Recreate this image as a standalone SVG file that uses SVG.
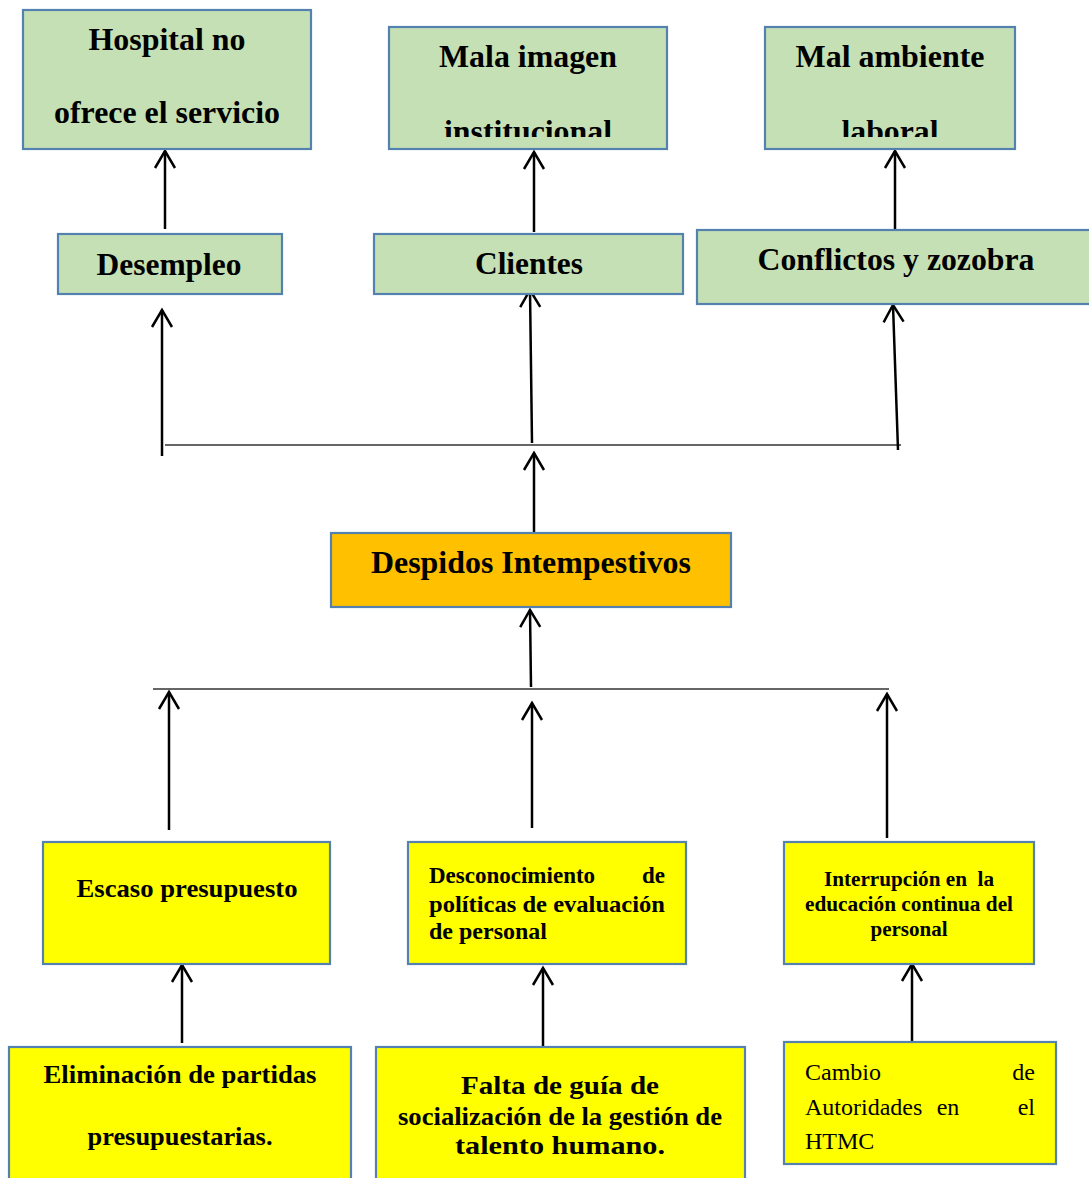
<svg xmlns="http://www.w3.org/2000/svg" width="1089" height="1178" viewBox="0 0 1089 1178">
<style>
.g{fill:#C5E0B4;stroke:#5581B0;stroke-width:2.2}
.o{fill:#FFC000;stroke:#5581B0;stroke-width:2.2}
.y{fill:#FFFF00;stroke:#5581B0;stroke-width:2.2}
text{font-family:"Liberation Serif","Times New Roman",serif;fill:#000}
.b{font-weight:bold}
.c{text-anchor:middle}
.a{stroke:#000;stroke-width:2.5;fill:none;marker-end:url(#arr)}
.h{stroke:#333;stroke-width:1.6;fill:none}
</style>
<defs>
<marker id="arr" markerUnits="userSpaceOnUse" markerWidth="20" markerHeight="20" refX="0" refY="0" orient="auto" overflow="visible">
<path d="M -17 -10 L 0 0 L -17 10" fill="none" stroke="#000" stroke-width="2.5"/>
</marker>
<clipPath id="c1"><rect x="389" y="27" width="278" height="110"/></clipPath>
<clipPath id="c2"><rect x="765" y="27" width="250" height="110"/></clipPath>
</defs>
<g id="connectors">
<line class="a" x1="165" y1="229" x2="165" y2="151"/>
<line class="a" x1="534" y1="232" x2="534" y2="152"/>
<line class="a" x1="895" y1="229" x2="895" y2="151"/>
<line class="h" x1="165" y1="445" x2="901" y2="445"/>
<line class="a" x1="162" y1="456" x2="162" y2="310"/>
<line class="a" x1="532" y1="443" x2="530" y2="290"/>
<line class="a" x1="898" y1="450" x2="893" y2="305"/>
<line class="a" x1="534" y1="533" x2="534" y2="453"/>
<line class="a" x1="531" y1="687" x2="530" y2="610"/>
<line class="h" x1="153" y1="689" x2="889" y2="689"/>
<line class="a" x1="169" y1="830" x2="169" y2="692"/>
<line class="a" x1="532" y1="828" x2="532" y2="703"/>
<line class="a" x1="887" y1="838" x2="887" y2="694"/>
<line class="a" x1="182" y1="1043" x2="182" y2="965"/>
<line class="a" x1="543" y1="1047" x2="543" y2="968"/>
<line class="a" x1="912" y1="1042" x2="912" y2="964"/>
</g>
<g id="hospital">
<rect class="g" x="23" y="10" width="288" height="139"/>
<text class="b c" x="167" y="50" font-size="31" textLength="157" lengthAdjust="spacingAndGlyphs">Hospital no</text>
<text class="b c" x="167" y="123" font-size="31" textLength="226" lengthAdjust="spacingAndGlyphs">ofrece el servicio</text>
</g>
<g id="mala-imagen">
<rect class="g" x="389" y="27" width="278" height="122"/>
<text class="b c" x="528" y="67" font-size="31" textLength="178" lengthAdjust="spacingAndGlyphs">Mala imagen</text>
<text class="b c" x="528" y="142" font-size="31" textLength="168" lengthAdjust="spacingAndGlyphs" clip-path="url(#c1)">institucional</text>
</g>
<g id="mal-ambiente">
<rect class="g" x="765" y="27" width="250" height="122"/>
<text class="b c" x="890" y="67" font-size="31" textLength="189" lengthAdjust="spacingAndGlyphs">Mal ambiente</text>
<text class="b c" x="890" y="142" font-size="31" textLength="97" lengthAdjust="spacingAndGlyphs" clip-path="url(#c2)">laboral</text>
</g>
<g id="desempleo">
<rect class="g" x="58" y="234" width="224" height="60"/>
<text class="b c" x="169" y="275" font-size="31" textLength="145" lengthAdjust="spacingAndGlyphs">Desempleo</text>
</g>
<g id="clientes">
<rect class="g" x="374" y="234" width="309" height="60"/>
<text class="b c" x="529" y="274" font-size="31" textLength="108" lengthAdjust="spacingAndGlyphs">Clientes</text>
</g>
<g id="conflictos">
<rect class="g" x="697" y="230" width="400" height="74"/>
<text class="b c" x="896" y="270" font-size="31" textLength="277" lengthAdjust="spacingAndGlyphs">Conflictos y zozobra</text>
</g>
<g id="despidos">
<rect class="o" x="331" y="533" width="400" height="74"/>
<text class="b c" x="531" y="573" font-size="31" textLength="320" lengthAdjust="spacingAndGlyphs">Despidos Intempestivos</text>
</g>
<g id="escaso">
<rect class="y" x="43" y="842" width="287" height="122"/>
<text class="b c" x="187" y="897" font-size="25" textLength="221" lengthAdjust="spacingAndGlyphs">Escaso presupuesto</text>
</g>
<g id="desconocimiento">
<rect class="y" x="408" y="842" width="278" height="122"/>
<text class="b" x="429" y="883" font-size="23">Desconocimiento</text>
<text class="b" x="665" y="883" font-size="23" text-anchor="end">de</text>
<text class="b" x="429" y="912" font-size="23" textLength="236" lengthAdjust="spacingAndGlyphs">políticas de evaluación</text>
<text class="b" x="429" y="939" font-size="23" textLength="118" lengthAdjust="spacingAndGlyphs">de personal</text>
</g>
<g id="interrupcion">
<rect class="y" x="784" y="842" width="250" height="122"/>
<text class="b c" x="909" y="886" font-size="20" textLength="170" lengthAdjust="spacingAndGlyphs" xml:space="preserve">Interrupción en  la</text>
<text class="b c" x="909" y="911" font-size="20" textLength="208" lengthAdjust="spacingAndGlyphs">educación continua del</text>
<text class="b c" x="909" y="936" font-size="20" textLength="77" lengthAdjust="spacingAndGlyphs">personal</text>
</g>
<g id="eliminacion">
<rect class="y" x="9" y="1047" width="342" height="140"/>
<text class="b c" x="180" y="1083" font-size="25" textLength="273" lengthAdjust="spacingAndGlyphs">Eliminación de partidas</text>
<text class="b c" x="180" y="1145" font-size="25" textLength="185" lengthAdjust="spacingAndGlyphs">presupuestarias.</text>
</g>
<g id="falta">
<rect class="y" x="376" y="1047" width="369" height="140"/>
<text class="b c" x="560" y="1094" font-size="25" textLength="198" lengthAdjust="spacingAndGlyphs">Falta de guía de</text>
<text class="b c" x="560" y="1125" font-size="25" textLength="324" lengthAdjust="spacingAndGlyphs">socialización de la gestión de</text>
<text class="b c" x="560" y="1154" font-size="25" textLength="210" lengthAdjust="spacingAndGlyphs">talento humano.</text>
</g>
<g id="cambio">
<rect class="y" x="784" y="1042" width="272" height="122"/>
<text x="805" y="1080" font-size="24">Cambio</text>
<text x="1035" y="1080" font-size="24" text-anchor="end">de</text>
<text x="805" y="1115" font-size="24">Autoridades</text>
<text x="948" y="1115" font-size="24" text-anchor="middle">en</text>
<text x="1035" y="1115" font-size="24" text-anchor="end">el</text>
<text x="805" y="1149" font-size="24">HTMC</text>
</g>
</svg>
